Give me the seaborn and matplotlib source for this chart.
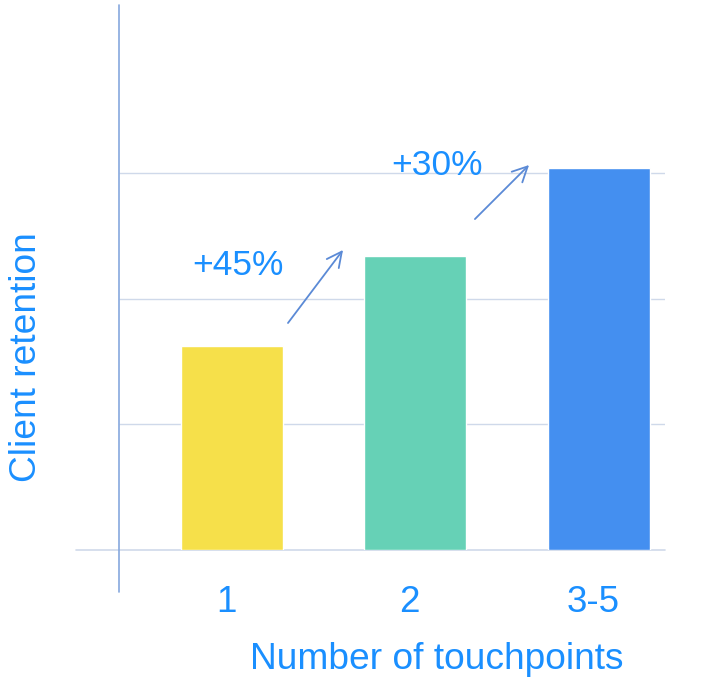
import numpy as np
import pandas as pd
import matplotlib
matplotlib.use("Agg")
import matplotlib.pyplot as plt
import matplotlib.transforms as mtransforms
import seaborn as sns

# data
categories = ["1", "2", "3-5"]
retention = [1.62, 2.34, 3.04]
bar_colors = ["#F6E04A", "#66D1B6", "#448FF0"]
growth_labels = ["+45%", "+30%"]

TEXT_BLUE = "#1a8fff"
ARROW_BLUE = "#5b8ad6"
AXIS_BLUE = "#86a8de"
GRID = "#cfd9ea"

sns.set_theme(style="white")
plt.rcParams['font.family'] = ['Liberation Sans', 'DejaVu Sans']

df = pd.DataFrame({"touchpoints": categories, "retention": retention})

fig = plt.figure(figsize=(7.11, 6.81), dpi=100)
W, H = 711, 681
ax = fig.add_axes([119 / W, 1 - 550 / H, (665 - 119) / W, (550 - 5) / H])

sns.barplot(data=df, x="touchpoints", y="retention", hue="touchpoints",
            palette=bar_colors, legend=False, width=0.556, saturation=1,
            ax=ax, zorder=3)

x_left, x_right = -0.616, 2.36
ax.set_xlim(x_left, x_right)
ax.set_ylim(0, 4.336)

# gridlines, baseline and the vertical axis line
ax.hlines([1, 2, 3], x_left, x_right, color=GRID, lw=1, zorder=1)
ax.plot([-0.85, x_right], [0, 0], color=GRID, lw=1.2, clip_on=False, zorder=2)
ax.plot([x_left, x_left], [-0.334, 4.336], color=AXIS_BLUE, lw=1.2,
        clip_on=False, zorder=2)

for s in ax.spines.values():
    s.set_visible(False)
ax.set_yticks([])
ax.tick_params(axis="x", length=0, pad=25, labelsize=26.5, labelcolor=TEXT_BLUE)
shift = mtransforms.ScaledTranslation(-6 / 100, 0, fig.dpi_scale_trans)
for lab in ax.get_xticklabels():
    lab.set_transform(lab.get_transform() + shift)

ax.set_xlabel("Number of touchpoints", fontsize=26.7, color=TEXT_BLUE)
ax.xaxis.set_label_coords(0.582, -0.168)
ax.set_ylabel("Client retention", fontsize=26.7, color=TEXT_BLUE)
ax.yaxis.set_label_coords(-0.137, 0.354)

# growth arrows between bars
arrows = [((0.305, 1.806), (0.605, 2.387)), ((1.324, 2.633), (1.619, 3.063))]
for tail, head in arrows:
    ax.annotate("", xy=head, xytext=tail,
                arrowprops=dict(arrowstyle="->,head_length=0.9,head_width=0.45",
                                color=ARROW_BLUE, lw=1.3, shrinkA=0, shrinkB=0),
                annotation_clip=False)

text_pos = [(0.033, 2.267), (1.117, 3.063)]
for (tx, ty), lbl in zip(text_pos, growth_labels):
    ax.text(tx, ty, lbl, fontsize=25.5, color=TEXT_BLUE, ha="center", va="center",
            zorder=4)

fig.savefig("out.png", dpi=100)
